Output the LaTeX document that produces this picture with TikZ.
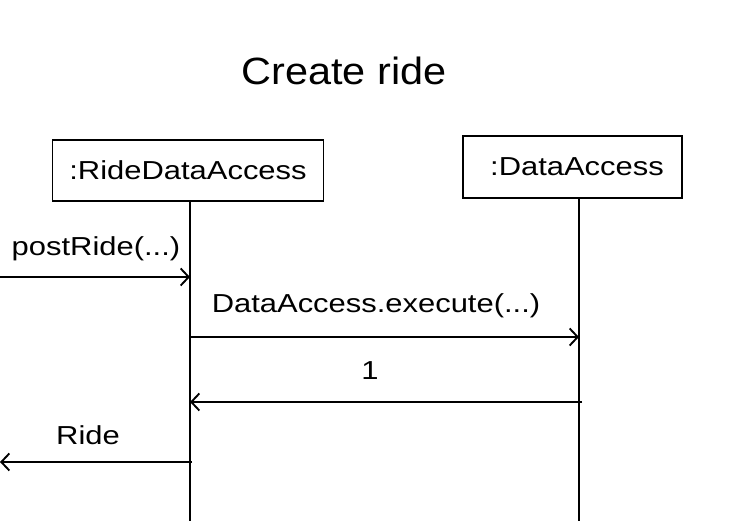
\documentclass[tikz,border=0pt]{standalone}
\usepackage{fontspec}
\setmainfont{Liberation Sans}
\usetikzlibrary{arrows.meta}
\newcommand{\lbl}[1]{\fontsize{26}{30}\selectfont\scalebox{1.19}[1]{#1}}
\newcommand{\ttl}[1]{\fontsize{38}{44}\selectfont\scalebox{1.09}[1]{#1}}
\tikzset{
  objbox/.style={draw, line width=1.9pt, inner sep=0pt, rectangle},
  lifeline/.style={line width=1.9pt},
  msg/.style={line width=1.9pt, -{Straight Barb[length=8pt, width=17pt, line width=1.9pt]}},
  msglabel/.style={inner sep=0pt, anchor=base},
}
\begin{document}
\begin{tikzpicture}[x=1pt, y=-1pt]
\useasboundingbox (0,0) rectangle (740,521);
\node[inner sep=0pt, anchor=base] (title) at (344,85) {\ttl{Create ride}};
\node[objbox, minimum width=271pt, minimum height=61pt] (rda) at (188,170.5) {\lbl{:RideDataAccess}};
\node[objbox, minimum width=219pt, minimum height=62pt] (da) at (572.5,167) {\hspace{9pt}\lbl{:DataAccess}};
\coordinate (rdatop) at (190,201);
\coordinate (rdabot) at (190,521);
\coordinate (datop) at (579,198);
\coordinate (dabot) at (579,521);
\draw[lifeline] (rdatop) -- (rdabot);
\draw[lifeline] (datop) -- (dabot);
% messages
\coordinate (inL) at (0,277);
\coordinate (inR) at (190,277);
\draw[msg] (inL) -- (inR);
\node[msglabel] (lpost) at (96,256) {\lbl{postRide(...)}};
\coordinate (exL) at (190,337);
\coordinate (exR) at (579,337);
\draw[msg] (exL) -- (exR);
\node[msglabel] (lexec) at (376,313) {\lbl{DataAccess.execute(...)}};
\coordinate (rtR) at (582,402);
\coordinate (rtL) at (190,402);
\draw[msg] (rtR) -- (rtL);
\node[msglabel] (lone) at (370,380) {\lbl{1}};
\coordinate (outR) at (192,462);
\coordinate (outL) at (0,462);
\draw[msg] (outR) -- (outL);
\node[msglabel] (lride) at (88,445) {\lbl{Ride}};
\end{tikzpicture}
\end{document}
